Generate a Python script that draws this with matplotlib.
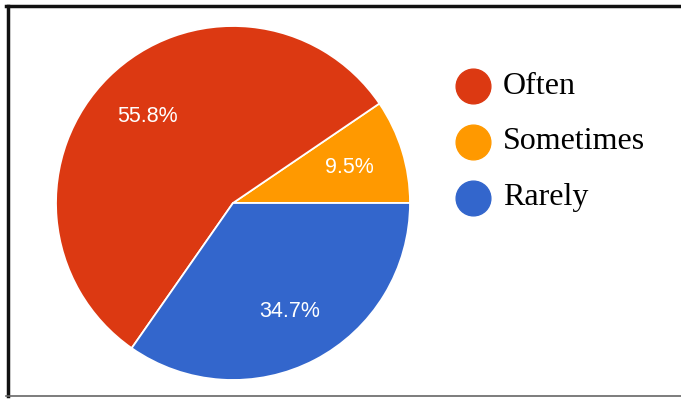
import matplotlib.pyplot as plt
from matplotlib.lines import Line2D

# data
labels = ["Sometimes", "Often", "Rarely"]
values = [9.5, 55.8, 34.7]
colors = ["#FF9900", "#DC3912", "#3366CC"]
legend_order = ["Often", "Sometimes", "Rarely"]

W, H = 681, 401
fig = plt.figure(figsize=(W / 100, H / 100), dpi=100)

# pie area
r_px = 177
cx, cy = 233, 203
ax = fig.add_axes([(cx - r_px) / W, (H - cy - r_px) / H, 2 * r_px / W, 2 * r_px / H])
wedges, texts, autotexts = ax.pie(values, colors=colors, startangle=0, counterclock=True,
                                  autopct="%.1f%%", pctdistance=0.69,
                                  wedgeprops=dict(edgecolor="white", linewidth=1.3),
                                  textprops=dict(color="white", fontsize=15.5,
                                                 family="Liberation Sans"))
ax.set_xlim(-1, 1)
ax.set_ylim(-1, 1)
ax.set_aspect("equal")
ax.axis("off")

# legend
for i, name in enumerate(legend_order):
    c = colors[labels.index(name)]
    y = 1 - (86 + 56 * i) / H
    fig.add_artist(Line2D([473 / W], [y], marker="o", markersize=25, color=c,
                          linestyle="none", transform=fig.transFigure))
    fig.text(503 / W, y, name, fontsize=23, family="Liberation Serif",
             va="center", ha="left", color="#000000")

# frame
fig.add_artist(Line2D([7.5 / W, 7.5 / W], [1 - 5.5 / H, 1 - 395.5 / H], color="#111111",
                      linewidth=2.5, transform=fig.transFigure))
fig.add_artist(Line2D([6 / W, 1], [1 - 5.5 / H, 1 - 5.5 / H], color="#111111",
                      linewidth=2.5, transform=fig.transFigure))
fig.add_artist(Line2D([6 / W, 1], [1 - 395.5 / H, 1 - 395.5 / H], color="#666666",
                      linewidth=1.2, transform=fig.transFigure))

fig.savefig("out.png", dpi=100)
